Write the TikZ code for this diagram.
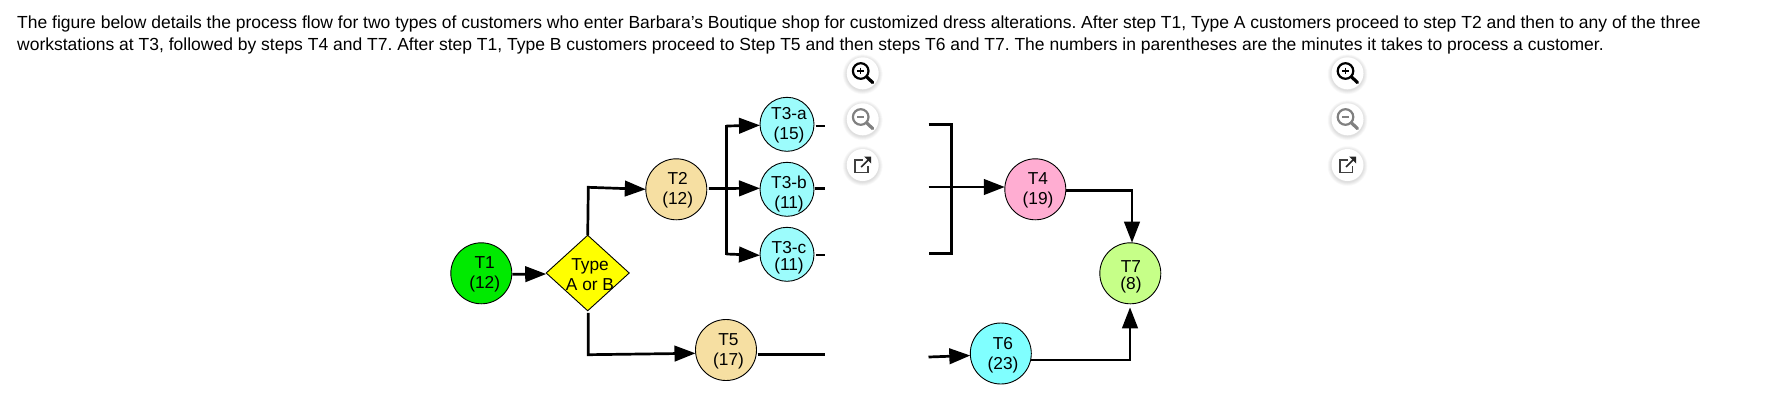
\documentclass[tikz,border=0pt]{standalone}
\usepackage{fontspec}
\setmainfont{Liberation Sans}
\usetikzlibrary{arrows.meta,shapes.geometric}
\definecolor{cT}{HTML}{00EA00}
\definecolor{cY}{HTML}{FFFF00}
\definecolor{cS}{HTML}{F6DFA2}
\definecolor{cC}{HTML}{9CFCFC}
\definecolor{cP}{HTML}{FFADD2}
\definecolor{cA}{HTML}{80FFFF}
\definecolor{cG}{HTML}{C6FF88}
\frenchspacing
\tikzset{
  stepnode/.style={circle,draw=black,line width=0.9pt,inner sep=0pt,outer sep=0pt,minimum size=61pt},
  smallnode/.style={circle,draw=black,line width=0.9pt,inner sep=0pt,outer sep=0pt,minimum size=54pt},
  lbl/.style={align=center,inner sep=0pt,yshift=-1.8pt,font=\fontsize{17.3}{20}\selectfont},
  lblt/.style={align=center,inner sep=0pt,yshift=-1.8pt,font=\fontsize{17.3}{17}\selectfont},
  para/.style={anchor=base west,inner sep=0pt,font=\fontsize{17.49}{20}\selectfont},
  flow/.style={line width=2.7pt,draw=black,line join=miter},
  tip/.style={flow,-{Triangle[length=21pt,width=15.5pt]}},
  shadowdisc/.pic={
    \foreach \r in {20,19.5,19,18.5,18,17.5,17,16.5} {\fill[black,opacity=0.016] (0,1) circle[radius=\r pt];}
    \fill[white] (0,0) circle[radius=16pt];
  },
  zoomin/.pic={
    \pic {shadowdisc};
    \draw[black,line width=2.2pt] (-2,-2.3) circle[radius=7.8pt];
    \draw[black,line width=3.2pt,line cap=round] (3.8,3.4) -- (10,9.3);
    \draw[black,line width=1.4pt] (-5.4,-2.3) -- (1.4,-2.3) (-2,-5.7) -- (-2,1.1);
  },
  zoomout/.pic={
    \pic {shadowdisc};
    \draw[black!50,line width=2.2pt] (-2,-2.3) circle[radius=7.8pt];
    \draw[black!50,line width=3.2pt,line cap=round] (3.8,3.4) -- (10,9.3);
    \draw[black!50,line width=1.4pt] (-5.4,-2.3) -- (1.4,-2.3);
  },
  popout/.pic={
    \pic {shadowdisc};
    \draw[black!75,line width=1.6pt] (0,-5) -- (-7.5,-5) -- (-7.5,7.5) -- (5,7.5) -- (5,1);
    \draw[black!85,line width=1.7pt] (-1.5,2) -- (6,-5.5);
    \fill[black!85] (1.5,-8.5) -- (8.5,-8.5) -- (8.5,-1.5) -- cycle;
  }
}
\begin{document}
\begin{tikzpicture}[x=1pt,y=-1pt]
\useasboundingbox (0,0) rectangle (1768,400);
\node[para] (line1) at (17,28) {The figure below details the process flow for two types of customers who enter Barbara's Boutique shop for customized dress alterations. After step T1, Type A customers proceed to step T2 and then to any of the three};
\node[para] (line2) at (17,50.3) {workstations at T3, followed by steps T4 and T7. After step T1, Type B customers proceed to Step T5 and then steps T6 and T7. The numbers in parentheses are the minutes it takes to process a customer.};

\node[stepnode,fill=cT] (t1) at (481.3,273.3) {};
\node[diamond,draw=black,line width=0.9pt,fill=cY,inner sep=0pt,outer sep=0pt,minimum width=83pt,minimum height=75.5pt,aspect=1.1] (d) at (587.7,273) {};
\node[stepnode,fill=cS] (t2) at (676.3,189.3) {};
\node[smallnode,fill=cC] (t3a) at (787,124.3) {};
\node[smallnode,fill=cC] (t3b) at (787,189.3) {};
\node[smallnode,fill=cC] (t3c) at (787,254.3) {};
\node[stepnode,fill=cS] (t5) at (726,350) {};
\node[stepnode,fill=cP] (t4) at (1035.3,189.3) {};
\node[stepnode,fill=cG] (t7) at (1130.3,273.3) {};
\node[stepnode,fill=cA] (t6) at (1000.8,353.5) {};

\node[lbl] (l1) at (484.7,273) {T1\\(12)};
\node[lbl] (ld) at (590,272.6) {Type\\A or B};
\node[lbl] (l2) at (677.7,188.3) {T2\\(12)};
\node[lbl] (l3a) at (789,123.3) {T3-a\\(15)};
\node[lbl] (l3b) at (789,192.5) {T3-b\\(11)};
\node[lblt] (l3c) at (789,255.8) {T3-c\\(11)};
\node[lbl] (l5) at (728.5,349.3) {T5\\(17)};
\node[lbl] (l4) at (1038,188.6) {T4\\(19)};
\node[lblt] (l7) at (1131,275) {T7\\(8)};
\node[lbl] (l6) at (1003,353) {T6\\(23)};

\coordinate (upbend) at (588.3,187.3);
\coordinate (dnbend) at (588.3,354.7);
\coordinate (brA) at (726.3,126);
\coordinate (brC) at (726.3,254);
\coordinate (outA) at (825,126);
\coordinate (outB) at (825,188.3);
\coordinate (outC) at (825,255);
\coordinate (outF) at (825,354.7);
\coordinate (inA) at (928.5,124.7);
\coordinate (inB) at (928.5,187);
\coordinate (inC) at (928.5,253.7);
\coordinate (inF) at (928.5,357);
\coordinate (mgA) at (951.7,124.7);
\coordinate (mgC) at (951.7,253.7);
\coordinate (r4) at (1132,190.3);
\coordinate (r6) at (1130,360);
\coordinate (t7top) at (1132,242.7);
\coordinate (t7bot) at (1130,307.3);

\draw[tip] ([shift={(0.5,1)}]t1.east) -- ([shift={(0,1)}]d.west);
\draw[tip] (d.north) -- (upbend) -- (t2.west);
\draw[tip] ([shift={(0.6,2)}]d.south) -- (dnbend) -- ([shift={(0,3.3)}]t5.west);
\draw[tip] ([shift={(2,-0.8)}]t2.east) -- ([shift={(0,-1)}]t3b.west);
\draw[flow,line cap=rect] (brA) -- (brC);
\draw[tip] (brA) -- ([shift={(0,1)}]t3a.west);
\draw[tip] (brC) -- ([shift={(0,1)}]t3c.west);
\draw[flow] ([shift={(1.5,1.7)}]t3a.east) -- (outA);
\draw[flow] ([shift={(1,-1)}]t3b.east) -- (outB);
\draw[flow] ([shift={(2,0.7)}]t3c.east) -- (outC);
\draw[flow] ([shift={(1,4.7)}]t5.east) -- (outF);
\draw[flow] (inA) -- (mgA) -- (mgC) -- (inC);
\draw[tip] (inB) -- ([shift={(0,-2.3)}]t4.west);
\draw[tip] (inF) -- ([shift={(0,2)}]t6.west);
\draw[tip] ([shift={(0,1)}]t4.east) -- (r4) -- (t7top);
\draw[tip] ([shift={(0,6.5)}]t6.east) -- (r6) -- (t7bot);

\pic at (862.7,73.3) {zoomin};
\pic at (862.7,119.3) {zoomout};
\pic at (862.7,165) {popout};
\pic at (1347.5,73.3) {zoomin};
\pic at (1347.5,119.3) {zoomout};
\pic at (1347.5,165) {popout};
\end{tikzpicture}
\end{document}
